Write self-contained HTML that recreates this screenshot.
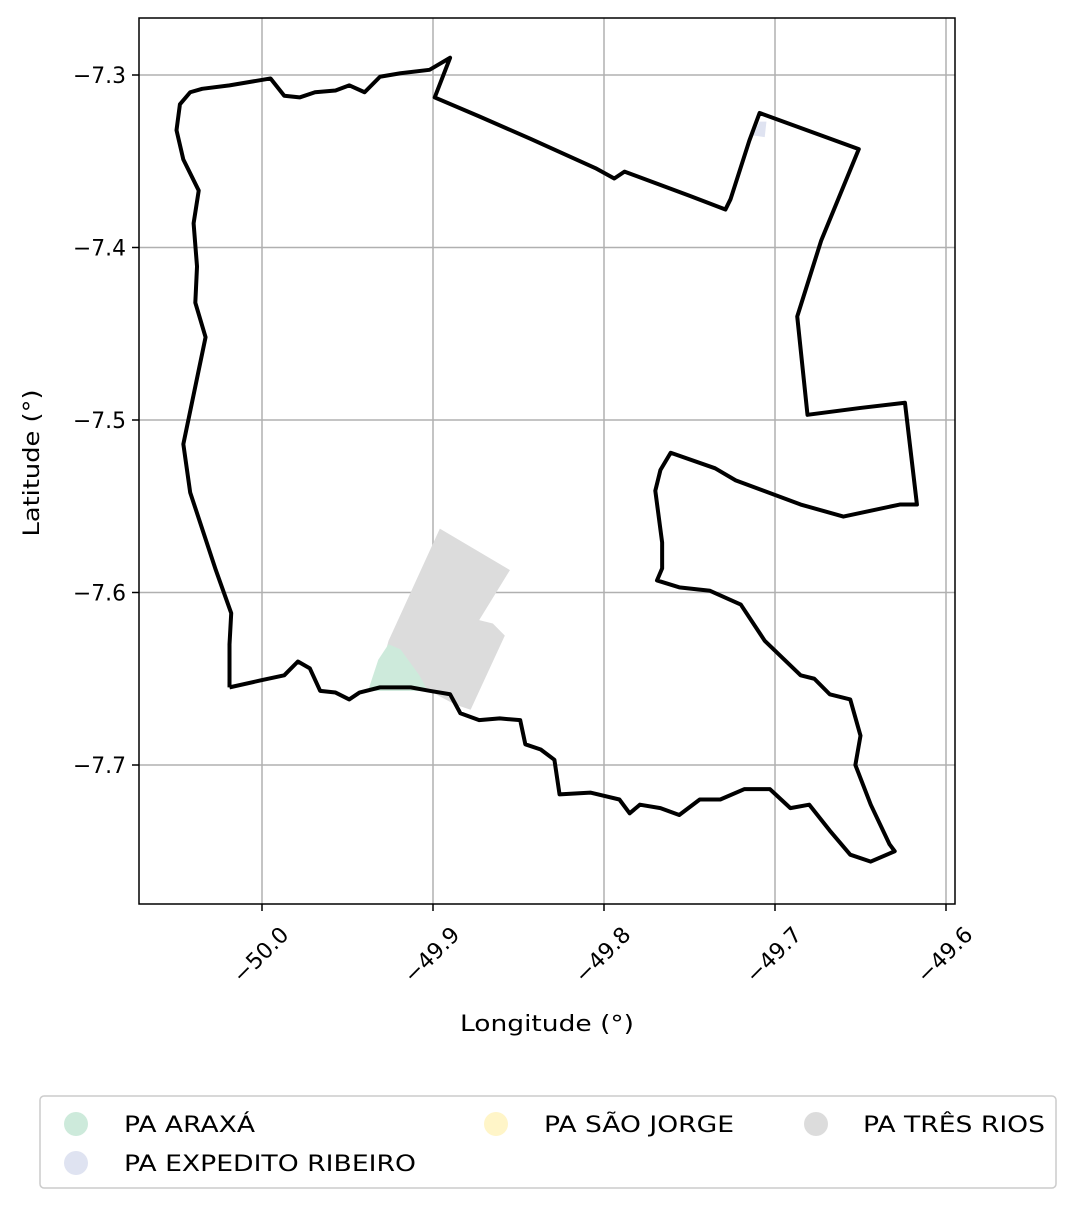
<!DOCTYPE html>
<html><head><meta charset="utf-8">
<style>
body{margin:0;background:#fff;font-family:"Liberation Sans","DejaVu Sans",sans-serif;}
svg text{font-family:"DejaVu Sans","Liberation Sans",sans-serif;fill:#000;}
</style></head>
<body>
<svg id="chart" width="1075" height="1207" xmlns="http://www.w3.org/2000/svg">
<g id="grid"></g>
<g id="polys"></g>
<g id="axes"></g>
<text x="39" y="463" font-size="22" text-anchor="middle" textLength="147" lengthAdjust="spacingAndGlyphs" transform="rotate(-90 39 463)">Latitude (°)</text>
<text x="547" y="1031" font-size="22" text-anchor="middle" textLength="174" lengthAdjust="spacingAndGlyphs">Longitude (°)</text>
<g>
<rect x="40" y="1096" width="1016" height="92" rx="4" fill="#fff" stroke="#ccc" stroke-width="1.5"/>
<circle cx="76" cy="1124" r="12" fill="#cdeadb"/>
<text x="124" y="1132" font-size="22" textLength="131" lengthAdjust="spacingAndGlyphs">PA ARAXÁ</text>
<circle cx="76" cy="1163" r="12" fill="#dfe3f1"/>
<text x="124" y="1171" font-size="22" textLength="292" lengthAdjust="spacingAndGlyphs">PA EXPEDITO RIBEIRO</text>
<circle cx="496" cy="1124" r="12" fill="#fff5c8"/>
<text x="544" y="1132" font-size="22" textLength="190" lengthAdjust="spacingAndGlyphs">PA SÃO JORGE</text>
<circle cx="816" cy="1124" r="12" fill="#dcdcdc"/>
<text x="863" y="1132" font-size="22" textLength="182" lengthAdjust="spacingAndGlyphs">PA TRÊS RIOS</text>
</g>
</svg>
<script>
const xTicks=[-50.0,-49.9,-49.8,-49.7,-49.6];
const xTickLabels=["−50.0","−49.9","−49.8","−49.7","−49.6"];
const yTicks=[-7.3,-7.4,-7.5,-7.6,-7.7];
const yTickLabels=["−7.3","−7.4","−7.5","−7.6","−7.7"];
const boundaryLon=[-50.019,-50.019,-50.018,-50.027,-50.042,-50.046,-50.033,-50.039,-50.038,-50.040,-50.037,-50.046,-50.050,-50.048,-50.042,-50.035,-50.019,-50.001,-49.995,-49.987,-49.978,-49.969,-49.957,-49.949,-49.940,-49.931,-49.919,-49.902,-49.890,-49.899,-49.873,-49.843,-49.805,-49.794,-49.788,-49.750,-49.729,-49.726,-49.715,-49.709,-49.651,-49.673,-49.687,-49.681,-49.650,-49.624,-49.617,-49.627,-49.660,-49.685,-49.723,-49.735,-49.761,-49.767,-49.770,-49.766,-49.766,-49.769,-49.756,-49.738,-49.720,-49.706,-49.685,-49.677,-49.668,-49.656,-49.650,-49.653,-49.644,-49.633,-49.630,-49.644,-49.656,-49.668,-49.680,-49.691,-49.703,-49.718,-49.732,-49.744,-49.756,-49.767,-49.779,-49.785,-49.791,-49.808,-49.826,-49.829,-49.837,-49.846,-49.849,-49.861,-49.873,-49.884,-49.890,-49.902,-49.913,-49.931,-49.943,-49.949,-49.957,-49.966,-49.972,-49.979,-49.987,-50.001,-50.019];
const boundaryLat=[-7.655,-7.630,-7.612,-7.587,-7.542,-7.514,-7.452,-7.432,-7.411,-7.386,-7.367,-7.349,-7.332,-7.317,-7.310,-7.308,-7.306,-7.303,-7.302,-7.312,-7.313,-7.310,-7.309,-7.306,-7.310,-7.301,-7.299,-7.297,-7.290,-7.313,-7.324,-7.337,-7.354,-7.360,-7.356,-7.370,-7.378,-7.372,-7.338,-7.322,-7.343,-7.396,-7.440,-7.497,-7.493,-7.490,-7.549,-7.549,-7.556,-7.549,-7.535,-7.528,-7.519,-7.529,-7.541,-7.571,-7.586,-7.593,-7.597,-7.599,-7.607,-7.628,-7.648,-7.650,-7.659,-7.662,-7.683,-7.700,-7.723,-7.746,-7.750,-7.756,-7.752,-7.738,-7.723,-7.725,-7.714,-7.714,-7.720,-7.720,-7.729,-7.725,-7.723,-7.728,-7.720,-7.716,-7.717,-7.697,-7.691,-7.688,-7.674,-7.673,-7.674,-7.670,-7.659,-7.657,-7.655,-7.655,-7.658,-7.662,-7.658,-7.657,-7.644,-7.640,-7.648,-7.651,-7.655];
const tresLon=[-49.896,-49.855,-49.873,-49.865,-49.858,-49.878,-49.887,-49.902,-49.934,-49.926];
const tresLat=[-7.563,-7.587,-7.616,-7.618,-7.625,-7.668,-7.665,-7.657,-7.657,-7.628];
const araxaLon=[-49.938,-49.932,-49.926,-49.919,-49.908,-49.903];
const araxaLat=[-7.657,-7.639,-7.630,-7.633,-7.648,-7.657];
const expLon=[-49.713,-49.709,-49.705,-49.706];
const expLat=[-7.335,-7.327,-7.327,-7.336];

const L=139,R=955,T=18,B=904;
function sx(lon){return 262+(lon+50)*1710;}
function sy(lat){return 75-(lat+7.3)*1725;}
const NS="http://www.w3.org/2000/svg";
function mk(tag,parent,attrs){const e=document.createElementNS(NS,tag);for(const k in attrs)e.setAttribute(k,attrs[k]);parent.appendChild(e);return e;}
const grid=document.getElementById('grid'),axes=document.getElementById('axes'),polys=document.getElementById('polys');
xTicks.forEach((v,i)=>{
  const x=sx(v);
  const g=mk('line',grid,{x1:x,x2:x,y1:T,y2:B,stroke:'#b0b0b0','stroke-width':1.5});
  
  
  const t=mk('line',axes,{x1:x,x2:x,y1:B,y2:B+7,stroke:'#000','stroke-width':1.5});
  
  
  const ax=x+28, ay=B+32;
  const tx=mk('text',axes,{x:ax,y:ay,'font-size':22,'text-anchor':'end',textLength:68,lengthAdjust:'spacingAndGlyphs',transform:`rotate(-45 ${ax} ${ay})`});
  tx.textContent=xTickLabels[i];
  
  
});
yTicks.forEach((v,i)=>{
  const y=sy(v);
  const g=mk('line',grid,{x1:L,x2:R,y1:y,y2:y,stroke:'#b0b0b0','stroke-width':1.5});
  
  
  const t=mk('line',axes,{x1:L-7,x2:L,y1:y,y2:y,stroke:'#000','stroke-width':1.5});
  
  
  const tx=mk('text',axes,{x:L-13,y:y+8,'font-size':22,'text-anchor':'end',textLength:53,lengthAdjust:'spacingAndGlyphs'});
  tx.textContent=yTickLabels[i];
  
  
});
function pts(lo,la){return lo.map((v,i)=>sx(v)+','+sy(la[i])).join(' ');}
const p1=mk('polygon',polys,{points:pts(tresLon,tresLat),fill:'#dcdcdc'});


const p2=mk('polygon',polys,{points:pts(araxaLon,araxaLat),fill:'#cdeadb'});


const p3=mk('polygon',polys,{points:pts(expLon,expLat),fill:'#dfe3f1'});


const b=mk('polyline',polys,{points:pts(boundaryLon,boundaryLat),fill:'none',stroke:'#000','stroke-width':4,'stroke-linejoin':'round'});


const fr=mk('rect',axes,{x:L,y:T,width:R-L,height:B-T,fill:'none',stroke:'#000','stroke-width':1.5});


</script>
</body></html>
